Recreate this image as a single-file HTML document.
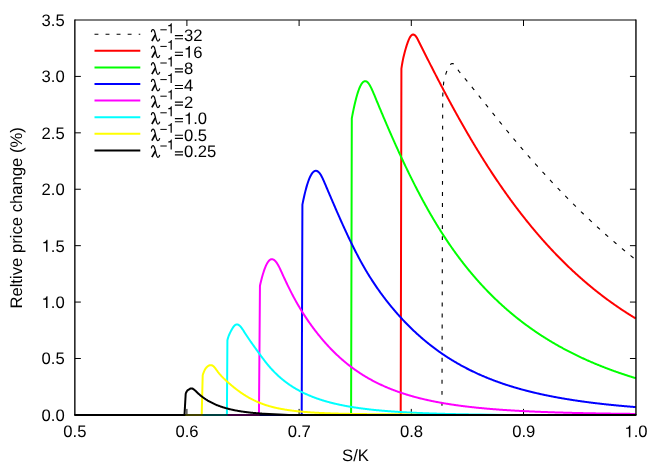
<!DOCTYPE html>
<html>
<head>
<meta charset="utf-8">
<title>Relative price change</title>
<style>
html,body{margin:0;padding:0;background:#fff;}
body{width:664px;height:465px;overflow:hidden;position:relative;font-family:"Liberation Sans",sans-serif;}
svg{will-change:transform;}
svg text{text-rendering:geometricPrecision;}
</style>
</head>
<body>
<svg width="664" height="465" viewBox="0 0 664 465" style="display:block;position:absolute;left:0;top:0" font-family="Liberation Sans, sans-serif" font-size="16.67" fill="#000">
<rect width="664" height="465" fill="#fff"/>
<path d="M186.90 414.9v-6 M186.90 20.0v6 M299.10 414.9v-6 M299.10 20.0v6 M411.30 414.9v-6 M411.30 20.0v6 M523.50 414.9v-6 M523.50 20.0v6 M74.85 358.49h6 M635.95 358.49h-6 M74.85 302.07h6 M635.95 302.07h-6 M74.85 245.66h6 M635.95 245.66h-6 M74.85 189.24h6 M635.95 189.24h-6 M74.85 132.83h6 M635.95 132.83h-6 M74.85 76.41h6 M635.95 76.41h-6" stroke="#000" stroke-width="1" fill="none"/>
<text x="63.26" y="437.25" font-size="16.67">0.5</text>
<text x="175.48" y="437.25" font-size="16.67">0.6</text>
<text x="287.70" y="437.25" font-size="16.67">0.7</text>
<text x="399.92" y="437.25" font-size="16.67">0.8</text>
<text x="512.14" y="437.25" font-size="16.67">0.9</text>
<path d="M271 0V-505H102V-568C205 -573 283 -625 301 -709H359V0Z" transform="translate(624.36 437.25) scale(0.01667)" fill="#000"/><text x="633.63" y="437.25" font-size="16.67">.0</text>
<text x="41.53" y="420.90" font-size="16.67">0.0</text>
<text x="41.53" y="364.49" font-size="16.67">0.5</text>
<path d="M271 0V-505H102V-568C205 -573 283 -625 301 -709H359V0Z" transform="translate(41.53 308.07) scale(0.01667)" fill="#000"/><text x="50.80" y="308.07" font-size="16.67">.0</text>
<path d="M271 0V-505H102V-568C205 -573 283 -625 301 -709H359V0Z" transform="translate(41.53 251.66) scale(0.01667)" fill="#000"/><text x="50.80" y="251.66" font-size="16.67">.5</text>
<text x="41.53" y="195.24" font-size="16.67">2.0</text>
<text x="41.53" y="138.83" font-size="16.67">2.5</text>
<text x="41.53" y="82.41" font-size="16.67">3.0</text>
<text x="41.53" y="26.00" font-size="16.67">3.5</text>
<text x="355.5" y="461.3" text-anchor="middle">S/K</text>
<text transform="translate(22 217.9) rotate(-90)" text-anchor="middle">Reltive price change (%)</text>
<path d="M94.5 34.2H140.3" stroke="#000" stroke-width="1.02" stroke-dasharray="3.9 7.15" fill="none"/>
<g transform="translate(150.7 41.2)" fill="none" stroke="#000" stroke-linecap="round" stroke-linejoin="round"><path d="M0.75 -9.6C1.0 -11.4 2.0 -12.0 2.9 -11.5C4.1 -10.7 4.3 -8.7 4.8 -6.2C5.5 -2.7 6.0 -0.1 7.2 -0.1C8.1 -0.1 8.6 -0.9 8.9 -2.1" stroke-width="1.25"/><path d="M4.55 -6.3L1.2 -0.2" stroke-width="1.7" stroke-linecap="butt"/></g>
<path d="M160.35 29.80h6.4" stroke="#000" stroke-width="1.0" fill="none"/>
<path d="M271 0V-505H102V-568C205 -573 283 -625 301 -709H359V0Z" transform="translate(166.80 33.20) scale(0.01390)" fill="#000"/>
<path d="M174.9 35.65h8.1M174.9 38.70h8.1" stroke="#000" stroke-width="1.15" fill="none"/>
<text x="183.90" y="41.20" font-size="16.67">32</text>
<path d="M94.5 50.8H140.3" stroke="#ff0000" stroke-width="2" fill="none"/>
<g transform="translate(150.7 57.8)" fill="none" stroke="#000" stroke-linecap="round" stroke-linejoin="round"><path d="M0.75 -9.6C1.0 -11.4 2.0 -12.0 2.9 -11.5C4.1 -10.7 4.3 -8.7 4.8 -6.2C5.5 -2.7 6.0 -0.1 7.2 -0.1C8.1 -0.1 8.6 -0.9 8.9 -2.1" stroke-width="1.25"/><path d="M4.55 -6.3L1.2 -0.2" stroke-width="1.7" stroke-linecap="butt"/></g>
<path d="M160.35 46.40h6.4" stroke="#000" stroke-width="1.0" fill="none"/>
<path d="M271 0V-505H102V-568C205 -573 283 -625 301 -709H359V0Z" transform="translate(166.80 49.80) scale(0.01390)" fill="#000"/>
<path d="M174.9 52.25h8.1M174.9 55.30h8.1" stroke="#000" stroke-width="1.15" fill="none"/>
<path d="M271 0V-505H102V-568C205 -573 283 -625 301 -709H359V0Z" transform="translate(183.90 57.80) scale(0.01667)" fill="#000"/><text x="193.17" y="57.80" font-size="16.67">6</text>
<path d="M94.5 67.4H140.3" stroke="#00ff00" stroke-width="2" fill="none"/>
<g transform="translate(150.7 74.4)" fill="none" stroke="#000" stroke-linecap="round" stroke-linejoin="round"><path d="M0.75 -9.6C1.0 -11.4 2.0 -12.0 2.9 -11.5C4.1 -10.7 4.3 -8.7 4.8 -6.2C5.5 -2.7 6.0 -0.1 7.2 -0.1C8.1 -0.1 8.6 -0.9 8.9 -2.1" stroke-width="1.25"/><path d="M4.55 -6.3L1.2 -0.2" stroke-width="1.7" stroke-linecap="butt"/></g>
<path d="M160.35 63.00h6.4" stroke="#000" stroke-width="1.0" fill="none"/>
<path d="M271 0V-505H102V-568C205 -573 283 -625 301 -709H359V0Z" transform="translate(166.80 66.40) scale(0.01390)" fill="#000"/>
<path d="M174.9 68.85h8.1M174.9 71.90h8.1" stroke="#000" stroke-width="1.15" fill="none"/>
<text x="183.90" y="74.40" font-size="16.67">8</text>
<path d="M94.5 84.0H140.3" stroke="#0000ff" stroke-width="2" fill="none"/>
<g transform="translate(150.7 91.0)" fill="none" stroke="#000" stroke-linecap="round" stroke-linejoin="round"><path d="M0.75 -9.6C1.0 -11.4 2.0 -12.0 2.9 -11.5C4.1 -10.7 4.3 -8.7 4.8 -6.2C5.5 -2.7 6.0 -0.1 7.2 -0.1C8.1 -0.1 8.6 -0.9 8.9 -2.1" stroke-width="1.25"/><path d="M4.55 -6.3L1.2 -0.2" stroke-width="1.7" stroke-linecap="butt"/></g>
<path d="M160.35 79.60h6.4" stroke="#000" stroke-width="1.0" fill="none"/>
<path d="M271 0V-505H102V-568C205 -573 283 -625 301 -709H359V0Z" transform="translate(166.80 83.00) scale(0.01390)" fill="#000"/>
<path d="M174.9 85.45h8.1M174.9 88.50h8.1" stroke="#000" stroke-width="1.15" fill="none"/>
<text x="183.90" y="91.00" font-size="16.67">4</text>
<path d="M94.5 100.6H140.3" stroke="#ff00ff" stroke-width="2" fill="none"/>
<g transform="translate(150.7 107.6)" fill="none" stroke="#000" stroke-linecap="round" stroke-linejoin="round"><path d="M0.75 -9.6C1.0 -11.4 2.0 -12.0 2.9 -11.5C4.1 -10.7 4.3 -8.7 4.8 -6.2C5.5 -2.7 6.0 -0.1 7.2 -0.1C8.1 -0.1 8.6 -0.9 8.9 -2.1" stroke-width="1.25"/><path d="M4.55 -6.3L1.2 -0.2" stroke-width="1.7" stroke-linecap="butt"/></g>
<path d="M160.35 96.20h6.4" stroke="#000" stroke-width="1.0" fill="none"/>
<path d="M271 0V-505H102V-568C205 -573 283 -625 301 -709H359V0Z" transform="translate(166.80 99.60) scale(0.01390)" fill="#000"/>
<path d="M174.9 102.05h8.1M174.9 105.10h8.1" stroke="#000" stroke-width="1.15" fill="none"/>
<text x="183.90" y="107.60" font-size="16.67">2</text>
<path d="M94.5 117.2H140.3" stroke="#00ffff" stroke-width="2" fill="none"/>
<g transform="translate(150.7 124.2)" fill="none" stroke="#000" stroke-linecap="round" stroke-linejoin="round"><path d="M0.75 -9.6C1.0 -11.4 2.0 -12.0 2.9 -11.5C4.1 -10.7 4.3 -8.7 4.8 -6.2C5.5 -2.7 6.0 -0.1 7.2 -0.1C8.1 -0.1 8.6 -0.9 8.9 -2.1" stroke-width="1.25"/><path d="M4.55 -6.3L1.2 -0.2" stroke-width="1.7" stroke-linecap="butt"/></g>
<path d="M160.35 112.80h6.4" stroke="#000" stroke-width="1.0" fill="none"/>
<path d="M271 0V-505H102V-568C205 -573 283 -625 301 -709H359V0Z" transform="translate(166.80 116.20) scale(0.01390)" fill="#000"/>
<path d="M174.9 118.65h8.1M174.9 121.70h8.1" stroke="#000" stroke-width="1.15" fill="none"/>
<path d="M271 0V-505H102V-568C205 -573 283 -625 301 -709H359V0Z" transform="translate(183.90 124.20) scale(0.01667)" fill="#000"/><text x="193.17" y="124.20" font-size="16.67">.0</text>
<path d="M94.5 133.8H140.3" stroke="#ffff00" stroke-width="2" fill="none"/>
<g transform="translate(150.7 140.8)" fill="none" stroke="#000" stroke-linecap="round" stroke-linejoin="round"><path d="M0.75 -9.6C1.0 -11.4 2.0 -12.0 2.9 -11.5C4.1 -10.7 4.3 -8.7 4.8 -6.2C5.5 -2.7 6.0 -0.1 7.2 -0.1C8.1 -0.1 8.6 -0.9 8.9 -2.1" stroke-width="1.25"/><path d="M4.55 -6.3L1.2 -0.2" stroke-width="1.7" stroke-linecap="butt"/></g>
<path d="M160.35 129.40h6.4" stroke="#000" stroke-width="1.0" fill="none"/>
<path d="M271 0V-505H102V-568C205 -573 283 -625 301 -709H359V0Z" transform="translate(166.80 132.80) scale(0.01390)" fill="#000"/>
<path d="M174.9 135.25h8.1M174.9 138.30h8.1" stroke="#000" stroke-width="1.15" fill="none"/>
<text x="183.90" y="140.80" font-size="16.67">0.5</text>
<path d="M94.5 150.4H140.3" stroke="#000000" stroke-width="2" fill="none"/>
<g transform="translate(150.7 157.4)" fill="none" stroke="#000" stroke-linecap="round" stroke-linejoin="round"><path d="M0.75 -9.6C1.0 -11.4 2.0 -12.0 2.9 -11.5C4.1 -10.7 4.3 -8.7 4.8 -6.2C5.5 -2.7 6.0 -0.1 7.2 -0.1C8.1 -0.1 8.6 -0.9 8.9 -2.1" stroke-width="1.25"/><path d="M4.55 -6.3L1.2 -0.2" stroke-width="1.7" stroke-linecap="butt"/></g>
<path d="M160.35 146.00h6.4" stroke="#000" stroke-width="1.0" fill="none"/>
<path d="M271 0V-505H102V-568C205 -573 283 -625 301 -709H359V0Z" transform="translate(166.80 149.40) scale(0.01390)" fill="#000"/>
<path d="M174.9 151.85h8.1M174.9 154.90h8.1" stroke="#000" stroke-width="1.15" fill="none"/>
<text x="183.90" y="157.40" font-size="16.67">0.25</text>
<path d="M441.95 415.00 L442.70 97.00 L443.20 87.04 L443.70 82.35 L444.20 79.72 L444.70 77.62 L445.20 75.88 L445.70 74.35 L446.20 72.92 L446.70 71.55 L447.20 70.26 L447.70 69.05 L448.20 67.93 L448.70 66.93 L449.20 66.05 L449.70 65.30 L450.20 64.69 L450.70 64.22 L451.20 63.88 L451.70 63.67 L452.20 63.59 L452.70 63.63 L453.20 63.79 L453.70 64.07 L454.20 64.47 L454.70 64.97 L455.20 65.57 L455.70 66.27 L456.20 67.03 L456.70 67.83 L457.20 68.64 L457.70 69.44 L458.20 70.20 L458.70 70.90 L459.20 71.56 L459.70 72.19 L460.20 72.80 L460.70 73.40 L461.20 74.00 L461.70 74.61 L462.20 75.21 L462.70 75.81 L463.20 76.42 L463.70 77.02 L464.20 77.63 L464.70 78.24 L465.20 78.85 L465.70 79.46 L466.20 80.07 L466.70 80.68 L467.20 81.29 L467.70 81.91 L468.20 82.52 L468.70 83.14 L469.20 83.75 L469.70 84.37 L470.20 84.99 L470.70 85.60 L471.20 86.22 L471.70 86.84 L472.20 87.46 L472.70 88.08 L473.20 88.70 L473.70 89.32 L474.20 89.94 L474.70 90.57 L475.20 91.19 L475.70 91.81 L476.20 92.44 L476.70 93.06 L477.20 93.68 L477.70 94.31 L478.20 94.93 L478.70 95.56 L479.20 96.18 L479.70 96.81 L480.20 97.43 L480.70 98.06 L481.20 98.69 L481.70 99.31 L482.20 99.94 L482.70 100.57 L483.20 101.19 L483.70 101.82 L484.20 102.45 L484.70 103.07 L485.20 103.70 L485.70 104.33 L486.20 104.95 L486.70 105.58 L487.20 106.21 L487.70 106.83 L488.20 107.46 L488.70 108.09 L489.20 108.71 L489.70 109.34 L490.20 109.97 L490.70 110.59 L491.20 111.22 L491.70 111.84 L492.20 112.47 L492.70 113.09 L493.20 113.71 L493.70 114.34 L494.20 114.96 L494.70 115.59 L495.20 116.21 L495.70 116.83 L496.20 117.45 L496.70 118.07 L497.20 118.69 L497.70 119.32 L498.20 119.94 L498.70 120.55 L499.20 121.17 L499.70 121.79 L500.20 122.41 L500.70 123.03 L501.20 123.64 L501.70 124.26 L502.20 124.88 L502.70 125.49 L503.20 126.11 L503.70 126.72 L504.20 127.33 L504.70 127.94 L505.20 128.56 L505.70 129.17 L506.20 129.78 L506.70 130.39 L507.20 130.99 L507.70 131.60 L508.20 132.21 L508.70 132.81 L509.20 133.42 L509.70 134.02 L510.20 134.63 L510.70 135.23 L511.20 135.83 L511.70 136.43 L512.20 137.03 L512.70 137.63 L513.20 138.23 L513.70 138.83 L514.20 139.43 L514.70 140.02 L515.20 140.62 L515.70 141.21 L516.20 141.80 L516.70 142.40 L517.20 142.99 L517.70 143.58 L518.20 144.17 L518.70 144.76 L519.20 145.35 L519.70 145.94 L520.20 146.52 L520.70 147.11 L521.20 147.69 L521.70 148.28 L522.20 148.86 L522.70 149.44 L523.20 150.03 L523.70 150.61 L524.20 151.19 L524.70 151.77 L525.20 152.35 L525.70 152.92 L526.20 153.50 L526.70 154.08 L527.20 154.65 L527.70 155.22 L528.20 155.80 L528.70 156.37 L529.20 156.94 L529.70 157.51 L530.20 158.08 L530.70 158.65 L531.20 159.22 L531.70 159.79 L532.20 160.36 L532.70 160.92 L533.20 161.49 L533.70 162.05 L534.20 162.61 L534.70 163.18 L535.20 163.74 L535.70 164.30 L536.20 164.86 L536.70 165.42 L537.20 165.98 L537.70 166.53 L538.20 167.09 L538.70 167.65 L539.20 168.20 L539.70 168.76 L540.20 169.31 L540.70 169.86 L541.20 170.41 L541.70 170.96 L542.20 171.51 L542.70 172.06 L543.20 172.61 L543.70 173.16 L544.20 173.70 L544.70 174.25 L545.20 174.79 L545.70 175.34 L546.20 175.88 L546.70 176.42 L547.20 176.97 L547.70 177.51 L548.20 178.05 L548.70 178.58 L549.20 179.12 L549.70 179.66 L550.20 180.20 L550.70 180.73 L551.20 181.27 L551.70 181.80 L552.20 182.33 L552.70 182.86 L553.20 183.40 L553.70 183.93 L554.20 184.46 L554.70 184.98 L555.20 185.51 L555.70 186.04 L556.20 186.57 L556.70 187.09 L557.20 187.62 L557.70 188.14 L558.20 188.66 L558.70 189.18 L559.20 189.71 L559.70 190.23 L560.20 190.75 L560.70 191.26 L561.20 191.78 L561.70 192.30 L562.20 192.81 L562.70 193.33 L563.20 193.84 L563.70 194.36 L564.20 194.87 L564.70 195.38 L565.20 195.89 L565.70 196.40 L566.20 196.91 L566.70 197.42 L567.20 197.93 L567.70 198.44 L568.20 198.94 L568.70 199.45 L569.20 199.95 L569.70 200.46 L570.20 200.96 L570.70 201.46 L571.20 201.96 L571.70 202.46 L572.20 202.96 L572.70 203.46 L573.20 203.96 L573.70 204.45 L574.20 204.95 L574.70 205.44 L575.20 205.94 L575.70 206.43 L576.20 206.92 L576.70 207.42 L577.20 207.91 L577.70 208.40 L578.20 208.89 L578.70 209.37 L579.20 209.86 L579.70 210.35 L580.20 210.83 L580.70 211.32 L581.20 211.80 L581.70 212.29 L582.20 212.77 L582.70 213.25 L583.20 213.73 L583.70 214.21 L584.20 214.69 L584.70 215.17 L585.20 215.65 L585.70 216.12 L586.20 216.60 L586.70 217.07 L587.20 217.55 L587.70 218.02 L588.20 218.50 L588.70 218.97 L589.20 219.44 L589.70 219.91 L590.20 220.38 L590.70 220.85 L591.20 221.31 L591.70 221.78 L592.20 222.25 L592.70 222.71 L593.20 223.18 L593.70 223.64 L594.20 224.10 L594.70 224.56 L595.20 225.02 L595.70 225.48 L596.20 225.94 L596.70 226.40 L597.20 226.86 L597.70 227.32 L598.20 227.77 L598.70 228.23 L599.20 228.68 L599.70 229.14 L600.20 229.59 L600.70 230.04 L601.20 230.49 L601.70 230.94 L602.20 231.39 L602.70 231.84 L603.20 232.29 L603.70 232.74 L604.20 233.18 L604.70 233.63 L605.20 234.07 L605.70 234.52 L606.20 234.96 L606.70 235.40 L607.20 235.84 L607.70 236.28 L608.20 236.72 L608.70 237.16 L609.20 237.60 L609.70 238.04 L610.20 238.47 L610.70 238.91 L611.20 239.34 L611.70 239.78 L612.20 240.21 L612.70 240.64 L613.20 241.08 L613.70 241.51 L614.20 241.94 L614.70 242.37 L615.20 242.79 L615.70 243.22 L616.20 243.65 L616.70 244.07 L617.20 244.50 L617.70 244.92 L618.20 245.35 L618.70 245.77 L619.20 246.19 L619.70 246.61 L620.20 247.03 L620.70 247.45 L621.20 247.87 L621.70 248.29 L622.20 248.71 L622.70 249.13 L623.20 249.54 L623.70 249.96 L624.20 250.37 L624.70 250.78 L625.20 251.20 L625.70 251.61 L626.20 252.02 L626.70 252.43 L627.20 252.84 L627.70 253.25 L628.20 253.65 L628.70 254.06 L629.20 254.47 L629.70 254.87 L630.20 255.28 L630.70 255.68 L631.20 256.08 L631.70 256.49 L632.20 256.89 L632.70 257.29 L633.20 257.69 L633.70 258.09 L634.20 258.49 L634.70 258.88 L635.20 259.28 L635.70 259.68 L635.75 259.72" stroke="#000" stroke-width="1.12" stroke-dasharray="3.9 7.15" stroke-dashoffset="1.9" fill="none" stroke-linejoin="round"/>
<path d="M74.85 414.90 L400.70 414.90 L401.40 68.60 L401.90 65.40 L402.40 62.52 L402.90 59.92 L403.40 57.55 L403.90 55.40 L404.40 53.41 L404.90 51.55 L405.40 49.78 L405.90 48.07 L406.40 46.41 L406.90 44.82 L407.40 43.32 L407.90 41.90 L408.40 40.59 L408.90 39.40 L409.40 38.33 L409.90 37.38 L410.40 36.57 L410.90 35.89 L411.40 35.35 L411.90 34.94 L412.40 34.68 L412.90 34.54 L413.40 34.53 L413.90 34.66 L414.40 34.90 L414.90 35.26 L415.40 35.75 L415.90 36.34 L416.40 37.05 L416.90 37.85 L417.40 38.74 L417.90 39.69 L418.40 40.68 L418.90 41.69 L419.40 42.70 L419.90 43.72 L420.40 44.73 L420.90 45.73 L421.40 46.74 L421.90 47.74 L422.40 48.74 L422.90 49.74 L423.40 50.74 L423.90 51.74 L424.40 52.73 L424.90 53.73 L425.40 54.72 L425.90 55.72 L426.40 56.71 L426.90 57.70 L427.40 58.69 L427.90 59.68 L428.40 60.67 L428.90 61.65 L429.40 62.64 L429.90 63.63 L430.40 64.61 L430.90 65.59 L431.40 66.57 L431.90 67.55 L432.40 68.53 L432.90 69.51 L433.40 70.49 L433.90 71.46 L434.40 72.44 L434.90 73.41 L435.40 74.38 L435.90 75.35 L436.40 76.32 L436.90 77.28 L437.40 78.25 L437.90 79.22 L438.40 80.18 L438.90 81.14 L439.40 82.10 L439.90 83.06 L440.40 84.02 L440.90 84.97 L441.40 85.93 L441.90 86.88 L442.40 87.83 L442.90 88.78 L443.40 89.73 L443.90 90.67 L444.40 91.62 L444.90 92.56 L445.40 93.50 L445.90 94.44 L446.40 95.38 L446.90 96.32 L447.40 97.25 L447.90 98.19 L448.40 99.12 L448.90 100.05 L449.40 100.97 L449.90 101.90 L450.40 102.83 L450.90 103.75 L451.40 104.67 L451.90 105.59 L452.40 106.51 L452.90 107.42 L453.40 108.34 L453.90 109.25 L454.40 110.16 L454.90 111.07 L455.40 111.97 L455.90 112.88 L456.40 113.78 L456.90 114.68 L457.40 115.58 L457.90 116.48 L458.40 117.38 L458.90 118.27 L459.40 119.16 L459.90 120.05 L460.40 120.94 L460.90 121.82 L461.40 122.71 L461.90 123.59 L462.40 124.47 L462.90 125.35 L463.40 126.23 L463.90 127.10 L464.40 127.97 L464.90 128.84 L465.40 129.71 L465.90 130.58 L466.40 131.44 L466.90 132.31 L467.40 133.17 L467.90 134.03 L468.40 134.88 L468.90 135.74 L469.40 136.59 L469.90 137.44 L470.40 138.29 L470.90 139.14 L471.40 139.98 L471.90 140.82 L472.40 141.66 L472.90 142.50 L473.40 143.34 L473.90 144.17 L474.40 145.01 L474.90 145.84 L475.40 146.66 L475.90 147.49 L476.40 148.31 L476.90 149.14 L477.40 149.96 L477.90 150.77 L478.40 151.59 L478.90 152.40 L479.40 153.22 L479.90 154.03 L480.40 154.83 L480.90 155.64 L481.40 156.44 L481.90 157.24 L482.40 158.04 L482.90 158.84 L483.40 159.64 L483.90 160.43 L484.40 161.22 L484.90 162.01 L485.40 162.80 L485.90 163.58 L486.40 164.36 L486.90 165.14 L487.40 165.92 L487.90 166.70 L488.40 167.47 L488.90 168.25 L489.40 169.02 L489.90 169.79 L490.40 170.55 L490.90 171.32 L491.40 172.08 L491.90 172.84 L492.40 173.60 L492.90 174.35 L493.40 175.11 L493.90 175.86 L494.40 176.61 L494.90 177.36 L495.40 178.11 L495.90 178.85 L496.40 179.59 L496.90 180.33 L497.40 181.07 L497.90 181.81 L498.40 182.54 L498.90 183.27 L499.40 184.00 L499.90 184.73 L500.40 185.46 L500.90 186.18 L501.40 186.90 L501.90 187.62 L502.40 188.34 L502.90 189.06 L503.40 189.77 L503.90 190.48 L504.40 191.19 L504.90 191.90 L505.40 192.61 L505.90 193.31 L506.40 194.01 L506.90 194.71 L507.40 195.41 L507.90 196.11 L508.40 196.80 L508.90 197.49 L509.40 198.18 L509.90 198.87 L510.40 199.56 L510.90 200.24 L511.40 200.93 L511.90 201.61 L512.40 202.28 L512.90 202.96 L513.40 203.64 L513.90 204.31 L514.40 204.98 L514.90 205.65 L515.40 206.31 L515.90 206.98 L516.40 207.64 L516.90 208.30 L517.40 208.96 L517.90 209.62 L518.40 210.28 L518.90 210.93 L519.40 211.58 L519.90 212.23 L520.40 212.88 L520.90 213.52 L521.40 214.17 L521.90 214.81 L522.40 215.45 L522.90 216.09 L523.40 216.72 L523.90 217.36 L524.40 217.99 L524.90 218.62 L525.40 219.25 L525.90 219.88 L526.40 220.50 L526.90 221.13 L527.40 221.75 L527.90 222.37 L528.40 222.99 L528.90 223.60 L529.40 224.22 L529.90 224.83 L530.40 225.44 L530.90 226.05 L531.40 226.65 L531.90 227.26 L532.40 227.86 L532.90 228.46 L533.40 229.06 L533.90 229.66 L534.40 230.25 L534.90 230.85 L535.40 231.44 L535.90 232.03 L536.40 232.62 L536.90 233.21 L537.40 233.79 L537.90 234.37 L538.40 234.95 L538.90 235.53 L539.40 236.11 L539.90 236.69 L540.40 237.26 L540.90 237.83 L541.40 238.40 L541.90 238.97 L542.40 239.54 L542.90 240.11 L543.40 240.67 L543.90 241.23 L544.40 241.79 L544.90 242.35 L545.40 242.91 L545.90 243.46 L546.40 244.01 L546.90 244.56 L547.40 245.11 L547.90 245.66 L548.40 246.21 L548.90 246.75 L549.40 247.29 L549.90 247.84 L550.40 248.38 L550.90 248.91 L551.40 249.45 L551.90 249.98 L552.40 250.52 L552.90 251.05 L553.40 251.57 L553.90 252.10 L554.40 252.63 L554.90 253.15 L555.40 253.67 L555.90 254.20 L556.40 254.71 L556.90 255.23 L557.40 255.75 L557.90 256.26 L558.40 256.77 L558.90 257.28 L559.40 257.79 L559.90 258.30 L560.40 258.81 L560.90 259.31 L561.40 259.81 L561.90 260.31 L562.40 260.81 L562.90 261.31 L563.40 261.81 L563.90 262.30 L564.40 262.80 L564.90 263.29 L565.40 263.78 L565.90 264.26 L566.40 264.75 L566.90 265.24 L567.40 265.72 L567.90 266.20 L568.40 266.68 L568.90 267.16 L569.40 267.64 L569.90 268.11 L570.40 268.59 L570.90 269.06 L571.40 269.53 L571.90 270.00 L572.40 270.47 L572.90 270.93 L573.40 271.40 L573.90 271.86 L574.40 272.32 L574.90 272.78 L575.40 273.24 L575.90 273.70 L576.40 274.15 L576.90 274.61 L577.40 275.06 L577.90 275.51 L578.40 275.96 L578.90 276.41 L579.40 276.85 L579.90 277.30 L580.40 277.74 L580.90 278.18 L581.40 278.62 L581.90 279.06 L582.40 279.50 L582.90 279.94 L583.40 280.37 L583.90 280.80 L584.40 281.23 L584.90 281.66 L585.40 282.09 L585.90 282.52 L586.40 282.95 L586.90 283.37 L587.40 283.79 L587.90 284.22 L588.40 284.64 L588.90 285.05 L589.40 285.47 L589.90 285.89 L590.40 286.30 L590.90 286.71 L591.40 287.13 L591.90 287.54 L592.40 287.95 L592.90 288.35 L593.40 288.76 L593.90 289.16 L594.40 289.57 L594.90 289.97 L595.40 290.37 L595.90 290.77 L596.40 291.17 L596.90 291.56 L597.40 291.96 L597.90 292.35 L598.40 292.74 L598.90 293.13 L599.40 293.52 L599.90 293.91 L600.40 294.30 L600.90 294.68 L601.40 295.07 L601.90 295.45 L602.40 295.83 L602.90 296.21 L603.40 296.59 L603.90 296.97 L604.40 297.35 L604.90 297.72 L605.40 298.10 L605.90 298.47 L606.40 298.84 L606.90 299.21 L607.40 299.58 L607.90 299.94 L608.40 300.31 L608.90 300.68 L609.40 301.04 L609.90 301.40 L610.40 301.76 L610.90 302.12 L611.40 302.48 L611.90 302.84 L612.40 303.19 L612.90 303.55 L613.40 303.90 L613.90 304.25 L614.40 304.60 L614.90 304.95 L615.40 305.30 L615.90 305.65 L616.40 305.99 L616.90 306.34 L617.40 306.68 L617.90 307.02 L618.40 307.37 L618.90 307.71 L619.40 308.04 L619.90 308.38 L620.40 308.72 L620.90 309.05 L621.40 309.39 L621.90 309.72 L622.40 310.05 L622.90 310.38 L623.40 310.71 L623.90 311.04 L624.40 311.37 L624.90 311.69 L625.40 312.02 L625.90 312.34 L626.40 312.66 L626.90 312.98 L627.40 313.30 L627.90 313.62 L628.40 313.94 L628.90 314.26 L629.40 314.57 L629.90 314.88 L630.40 315.20 L630.90 315.51 L631.40 315.82 L631.90 316.13 L632.40 316.44 L632.90 316.75 L633.40 317.05 L633.90 317.36 L634.40 317.66 L634.90 317.97 L635.40 318.27 L635.75 318.48" stroke="#ff0000" stroke-width="2" fill="none" stroke-linejoin="round"/>
<path d="M74.85 414.90 L351.10 414.90 L351.80 118.20 L352.30 115.58 L352.80 113.03 L353.30 110.58 L353.80 108.21 L354.30 105.93 L354.80 103.74 L355.30 101.65 L355.80 99.66 L356.30 97.76 L356.80 95.95 L357.30 94.25 L357.80 92.65 L358.30 91.15 L358.80 89.75 L359.30 88.45 L359.80 87.26 L360.30 86.17 L360.80 85.19 L361.30 84.32 L361.80 83.55 L362.30 82.88 L362.80 82.33 L363.30 81.87 L363.80 81.53 L364.30 81.29 L364.80 81.15 L365.30 81.13 L365.80 81.20 L366.30 81.38 L366.80 81.66 L367.30 82.04 L367.80 82.51 L368.30 83.07 L368.80 83.72 L369.30 84.46 L369.80 85.28 L370.30 86.17 L370.80 87.13 L371.30 88.14 L371.80 89.20 L372.30 90.30 L372.80 91.43 L373.30 92.59 L373.80 93.77 L374.30 94.97 L374.80 96.18 L375.30 97.39 L375.80 98.61 L376.30 99.82 L376.80 101.04 L377.30 102.25 L377.80 103.45 L378.30 104.66 L378.80 105.86 L379.30 107.07 L379.80 108.27 L380.30 109.46 L380.80 110.66 L381.30 111.85 L381.80 113.04 L382.30 114.23 L382.80 115.41 L383.30 116.60 L383.80 117.78 L384.30 118.95 L384.80 120.13 L385.30 121.30 L385.80 122.47 L386.30 123.64 L386.80 124.80 L387.30 125.97 L387.80 127.13 L388.30 128.28 L388.80 129.44 L389.30 130.59 L389.80 131.74 L390.30 132.88 L390.80 134.02 L391.30 135.16 L391.80 136.30 L392.30 137.43 L392.80 138.56 L393.30 139.69 L393.80 140.82 L394.30 141.94 L394.80 143.06 L395.30 144.17 L395.80 145.29 L396.30 146.40 L396.80 147.50 L397.30 148.60 L397.80 149.70 L398.30 150.80 L398.80 151.90 L399.30 152.99 L399.80 154.07 L400.30 155.16 L400.80 156.24 L401.30 157.31 L401.80 158.39 L402.30 159.46 L402.80 160.53 L403.30 161.59 L403.80 162.65 L404.30 163.71 L404.80 164.76 L405.30 165.81 L405.80 166.86 L406.30 167.90 L406.80 168.94 L407.30 169.98 L407.80 171.01 L408.30 172.04 L408.80 173.07 L409.30 174.09 L409.80 175.11 L410.30 176.13 L410.80 177.14 L411.30 178.15 L411.80 179.15 L412.30 180.15 L412.80 181.15 L413.30 182.15 L413.80 183.14 L414.30 184.12 L414.80 185.11 L415.30 186.09 L415.80 187.06 L416.30 188.03 L416.80 189.00 L417.30 189.97 L417.80 190.93 L418.30 191.89 L418.80 192.84 L419.30 193.79 L419.80 194.74 L420.30 195.68 L420.80 196.62 L421.30 197.56 L421.80 198.49 L422.30 199.42 L422.80 200.35 L423.30 201.27 L423.80 202.19 L424.30 203.10 L424.80 204.01 L425.30 204.92 L425.80 205.82 L426.30 206.72 L426.80 207.61 L427.30 208.51 L427.80 209.39 L428.30 210.28 L428.80 211.16 L429.30 212.03 L429.80 212.91 L430.30 213.78 L430.80 214.64 L431.30 215.51 L431.80 216.36 L432.30 217.22 L432.80 218.07 L433.30 218.92 L433.80 219.76 L434.30 220.60 L434.80 221.44 L435.30 222.27 L435.80 223.10 L436.30 223.92 L436.80 224.74 L437.30 225.56 L437.80 226.37 L438.30 227.18 L438.80 227.99 L439.30 228.79 L439.80 229.59 L440.30 230.39 L440.80 231.18 L441.30 231.97 L441.80 232.75 L442.30 233.53 L442.80 234.31 L443.30 235.09 L443.80 235.86 L444.30 236.62 L444.80 237.38 L445.30 238.14 L445.80 238.90 L446.30 239.65 L446.80 240.40 L447.30 241.15 L447.80 241.89 L448.30 242.63 L448.80 243.36 L449.30 244.09 L449.80 244.82 L450.30 245.55 L450.80 246.27 L451.30 246.98 L451.80 247.70 L452.30 248.41 L452.80 249.12 L453.30 249.82 L453.80 250.52 L454.30 251.22 L454.80 251.92 L455.30 252.61 L455.80 253.30 L456.30 253.98 L456.80 254.67 L457.30 255.35 L457.80 256.02 L458.30 256.70 L458.80 257.37 L459.30 258.03 L459.80 258.70 L460.30 259.36 L460.80 260.01 L461.30 260.67 L461.80 261.32 L462.30 261.97 L462.80 262.62 L463.30 263.26 L463.80 263.90 L464.30 264.54 L464.80 265.17 L465.30 265.80 L465.80 266.43 L466.30 267.06 L466.80 267.68 L467.30 268.30 L467.80 268.91 L468.30 269.53 L468.80 270.14 L469.30 270.75 L469.80 271.36 L470.30 271.96 L470.80 272.56 L471.30 273.16 L471.80 273.75 L472.30 274.34 L472.80 274.93 L473.30 275.52 L473.80 276.11 L474.30 276.69 L474.80 277.27 L475.30 277.84 L475.80 278.42 L476.30 278.99 L476.80 279.56 L477.30 280.12 L477.80 280.69 L478.30 281.25 L478.80 281.81 L479.30 282.36 L479.80 282.92 L480.30 283.47 L480.80 284.02 L481.30 284.56 L481.80 285.11 L482.30 285.65 L482.80 286.19 L483.30 286.73 L483.80 287.26 L484.30 287.79 L484.80 288.32 L485.30 288.85 L485.80 289.37 L486.30 289.90 L486.80 290.42 L487.30 290.93 L487.80 291.45 L488.30 291.96 L488.80 292.47 L489.30 292.98 L489.80 293.49 L490.30 293.99 L490.80 294.50 L491.30 295.00 L491.80 295.49 L492.30 295.99 L492.80 296.48 L493.30 296.97 L493.80 297.46 L494.30 297.95 L494.80 298.43 L495.30 298.92 L495.80 299.40 L496.30 299.88 L496.80 300.35 L497.30 300.83 L497.80 301.30 L498.30 301.77 L498.80 302.24 L499.30 302.70 L499.80 303.17 L500.30 303.63 L500.80 304.09 L501.30 304.55 L501.80 305.00 L502.30 305.46 L502.80 305.91 L503.30 306.36 L503.80 306.81 L504.30 307.25 L504.80 307.70 L505.30 308.14 L505.80 308.58 L506.30 309.02 L506.80 309.45 L507.30 309.89 L507.80 310.32 L508.30 310.75 L508.80 311.18 L509.30 311.61 L509.80 312.03 L510.30 312.46 L510.80 312.88 L511.30 313.30 L511.80 313.71 L512.30 314.13 L512.80 314.55 L513.30 314.96 L513.80 315.37 L514.30 315.78 L514.80 316.19 L515.30 316.59 L515.80 316.99 L516.30 317.40 L516.80 317.80 L517.30 318.20 L517.80 318.59 L518.30 318.99 L518.80 319.38 L519.30 319.77 L519.80 320.16 L520.30 320.55 L520.80 320.94 L521.30 321.32 L521.80 321.71 L522.30 322.09 L522.80 322.47 L523.30 322.85 L523.80 323.23 L524.30 323.60 L524.80 323.97 L525.30 324.35 L525.80 324.72 L526.30 325.09 L526.80 325.45 L527.30 325.82 L527.80 326.18 L528.30 326.55 L528.80 326.91 L529.30 327.27 L529.80 327.63 L530.30 327.98 L530.80 328.34 L531.30 328.69 L531.80 329.05 L532.30 329.40 L532.80 329.75 L533.30 330.09 L533.80 330.44 L534.30 330.79 L534.80 331.13 L535.30 331.47 L535.80 331.81 L536.30 332.15 L536.80 332.49 L537.30 332.82 L537.80 333.16 L538.30 333.49 L538.80 333.83 L539.30 334.16 L539.80 334.49 L540.30 334.81 L540.80 335.14 L541.30 335.47 L541.80 335.79 L542.30 336.11 L542.80 336.43 L543.30 336.75 L543.80 337.07 L544.30 337.39 L544.80 337.70 L545.30 338.02 L545.80 338.33 L546.30 338.64 L546.80 338.95 L547.30 339.26 L547.80 339.57 L548.30 339.88 L548.80 340.18 L549.30 340.49 L549.80 340.79 L550.30 341.09 L550.80 341.39 L551.30 341.69 L551.80 341.99 L552.30 342.29 L552.80 342.58 L553.30 342.88 L553.80 343.17 L554.30 343.46 L554.80 343.75 L555.30 344.04 L555.80 344.33 L556.30 344.62 L556.80 344.90 L557.30 345.19 L557.80 345.47 L558.30 345.76 L558.80 346.04 L559.30 346.32 L559.80 346.60 L560.30 346.87 L560.80 347.15 L561.30 347.43 L561.80 347.70 L562.30 347.97 L562.80 348.25 L563.30 348.52 L563.80 348.79 L564.30 349.06 L564.80 349.32 L565.30 349.59 L565.80 349.85 L566.30 350.12 L566.80 350.38 L567.30 350.65 L567.80 350.91 L568.30 351.17 L568.80 351.43 L569.30 351.68 L569.80 351.94 L570.30 352.20 L570.80 352.45 L571.30 352.71 L571.80 352.96 L572.30 353.21 L572.80 353.46 L573.30 353.71 L573.80 353.96 L574.30 354.21 L574.80 354.45 L575.30 354.70 L575.80 354.94 L576.30 355.19 L576.80 355.43 L577.30 355.67 L577.80 355.91 L578.30 356.15 L578.80 356.39 L579.30 356.63 L579.80 356.87 L580.30 357.10 L580.80 357.34 L581.30 357.57 L581.80 357.80 L582.30 358.04 L582.80 358.27 L583.30 358.50 L583.80 358.73 L584.30 358.96 L584.80 359.18 L585.30 359.41 L585.80 359.64 L586.30 359.86 L586.80 360.08 L587.30 360.31 L587.80 360.53 L588.30 360.75 L588.80 360.97 L589.30 361.19 L589.80 361.41 L590.30 361.63 L590.80 361.84 L591.30 362.06 L591.80 362.27 L592.30 362.49 L592.80 362.70 L593.30 362.91 L593.80 363.13 L594.30 363.34 L594.80 363.55 L595.30 363.76 L595.80 363.96 L596.30 364.17 L596.80 364.38 L597.30 364.58 L597.80 364.79 L598.30 364.99 L598.80 365.20 L599.30 365.40 L599.80 365.60 L600.30 365.80 L600.80 366.00 L601.30 366.20 L601.80 366.40 L602.30 366.60 L602.80 366.79 L603.30 366.99 L603.80 367.19 L604.30 367.38 L604.80 367.57 L605.30 367.77 L605.80 367.96 L606.30 368.15 L606.80 368.34 L607.30 368.53 L607.80 368.72 L608.30 368.91 L608.80 369.10 L609.30 369.28 L609.80 369.47 L610.30 369.66 L610.80 369.84 L611.30 370.03 L611.80 370.21 L612.30 370.39 L612.80 370.57 L613.30 370.75 L613.80 370.94 L614.30 371.11 L614.80 371.29 L615.30 371.47 L615.80 371.65 L616.30 371.83 L616.80 372.00 L617.30 372.18 L617.80 372.35 L618.30 372.53 L618.80 372.70 L619.30 372.87 L619.80 373.05 L620.30 373.22 L620.80 373.39 L621.30 373.56 L621.80 373.73 L622.30 373.90 L622.80 374.06 L623.30 374.23 L623.80 374.40 L624.30 374.56 L624.80 374.73 L625.30 374.90 L625.80 375.06 L626.30 375.22 L626.80 375.39 L627.30 375.55 L627.80 375.71 L628.30 375.87 L628.80 376.03 L629.30 376.19 L629.80 376.35 L630.30 376.51 L630.80 376.67 L631.30 376.82 L631.80 376.98 L632.30 377.14 L632.80 377.29 L633.30 377.45 L633.80 377.60 L634.30 377.75 L634.80 377.91 L635.30 378.06 L635.75 378.20" stroke="#00ff00" stroke-width="2" fill="none" stroke-linejoin="round"/>
<path d="M74.85 414.90 L301.70 414.90 L302.40 204.60 L302.90 202.10 L303.40 199.73 L303.90 197.44 L304.40 195.24 L304.90 193.14 L305.40 191.12 L305.90 189.20 L306.40 187.37 L306.90 185.64 L307.40 184.00 L307.90 182.46 L308.40 181.01 L308.90 179.67 L309.40 178.42 L309.90 177.26 L310.40 176.21 L310.90 175.25 L311.40 174.39 L311.90 173.62 L312.40 172.95 L312.90 172.38 L313.40 171.89 L313.90 171.50 L314.40 171.20 L314.90 170.99 L315.40 170.86 L315.90 170.83 L316.40 170.87 L316.90 171.00 L317.40 171.22 L317.90 171.52 L318.40 171.90 L318.90 172.37 L319.40 172.92 L319.90 173.56 L320.40 174.29 L320.90 175.09 L321.40 175.97 L321.90 176.92 L322.40 177.92 L322.90 178.97 L323.40 180.06 L323.90 181.19 L324.40 182.34 L324.90 183.52 L325.40 184.70 L325.90 185.88 L326.40 187.07 L326.90 188.25 L327.40 189.43 L327.90 190.60 L328.40 191.78 L328.90 192.95 L329.40 194.12 L329.90 195.29 L330.40 196.46 L330.90 197.62 L331.40 198.79 L331.90 199.96 L332.40 201.12 L332.90 202.29 L333.40 203.45 L333.90 204.61 L334.40 205.77 L334.90 206.92 L335.40 208.08 L335.90 209.23 L336.40 210.38 L336.90 211.53 L337.40 212.67 L337.90 213.81 L338.40 214.95 L338.90 216.09 L339.40 217.22 L339.90 218.35 L340.40 219.48 L340.90 220.60 L341.40 221.72 L341.90 222.84 L342.40 223.95 L342.90 225.06 L343.40 226.16 L343.90 227.26 L344.40 228.36 L344.90 229.45 L345.40 230.53 L345.90 231.62 L346.40 232.69 L346.90 233.77 L347.40 234.83 L347.90 235.90 L348.40 236.96 L348.90 238.01 L349.40 239.06 L349.90 240.10 L350.40 241.14 L350.90 242.17 L351.40 243.20 L351.90 244.22 L352.40 245.23 L352.90 246.25 L353.40 247.25 L353.90 248.25 L354.40 249.24 L354.90 250.23 L355.40 251.21 L355.90 252.19 L356.40 253.16 L356.90 254.12 L357.40 255.08 L357.90 256.03 L358.40 256.97 L358.90 257.91 L359.40 258.85 L359.90 259.77 L360.40 260.69 L360.90 261.61 L361.40 262.52 L361.90 263.42 L362.40 264.31 L362.90 265.20 L363.40 266.08 L363.90 266.96 L364.40 267.83 L364.90 268.69 L365.40 269.55 L365.90 270.40 L366.40 271.24 L366.90 272.08 L367.40 272.91 L367.90 273.73 L368.40 274.55 L368.90 275.36 L369.40 276.17 L369.90 276.97 L370.40 277.76 L370.90 278.55 L371.40 279.33 L371.90 280.11 L372.40 280.88 L372.90 281.65 L373.40 282.41 L373.90 283.17 L374.40 283.92 L374.90 284.66 L375.40 285.40 L375.90 286.14 L376.40 286.87 L376.90 287.60 L377.40 288.32 L377.90 289.03 L378.40 289.74 L378.90 290.45 L379.40 291.15 L379.90 291.85 L380.40 292.54 L380.90 293.23 L381.40 293.91 L381.90 294.59 L382.40 295.27 L382.90 295.94 L383.40 296.61 L383.90 297.27 L384.40 297.93 L384.90 298.59 L385.40 299.24 L385.90 299.88 L386.40 300.53 L386.90 301.17 L387.40 301.80 L387.90 302.44 L388.40 303.06 L388.90 303.69 L389.40 304.31 L389.90 304.93 L390.40 305.54 L390.90 306.15 L391.40 306.76 L391.90 307.37 L392.40 307.97 L392.90 308.56 L393.40 309.16 L393.90 309.75 L394.40 310.34 L394.90 310.92 L395.40 311.50 L395.90 312.08 L396.40 312.66 L396.90 313.23 L397.40 313.80 L397.90 314.36 L398.40 314.93 L398.90 315.49 L399.40 316.04 L399.90 316.59 L400.40 317.14 L400.90 317.69 L401.40 318.24 L401.90 318.78 L402.40 319.32 L402.90 319.85 L403.40 320.38 L403.90 320.91 L404.40 321.44 L404.90 321.96 L405.40 322.48 L405.90 323.00 L406.40 323.51 L406.90 324.03 L407.40 324.53 L407.90 325.04 L408.40 325.54 L408.90 326.04 L409.40 326.54 L409.90 327.04 L410.40 327.53 L410.90 328.02 L411.40 328.51 L411.90 328.99 L412.40 329.47 L412.90 329.95 L413.40 330.43 L413.90 330.90 L414.40 331.37 L414.90 331.84 L415.40 332.30 L415.90 332.76 L416.40 333.23 L416.90 333.68 L417.40 334.14 L417.90 334.59 L418.40 335.04 L418.90 335.49 L419.40 335.93 L419.90 336.37 L420.40 336.81 L420.90 337.25 L421.40 337.69 L421.90 338.12 L422.40 338.55 L422.90 338.98 L423.40 339.40 L423.90 339.83 L424.40 340.25 L424.90 340.66 L425.40 341.08 L425.90 341.49 L426.40 341.90 L426.90 342.31 L427.40 342.72 L427.90 343.12 L428.40 343.53 L428.90 343.93 L429.40 344.32 L429.90 344.72 L430.40 345.11 L430.90 345.50 L431.40 345.89 L431.90 346.28 L432.40 346.66 L432.90 347.04 L433.40 347.42 L433.90 347.80 L434.40 348.17 L434.90 348.55 L435.40 348.92 L435.90 349.29 L436.40 349.65 L436.90 350.02 L437.40 350.38 L437.90 350.74 L438.40 351.10 L438.90 351.46 L439.40 351.81 L439.90 352.17 L440.40 352.52 L440.90 352.87 L441.40 353.21 L441.90 353.56 L442.40 353.90 L442.90 354.24 L443.40 354.58 L443.90 354.92 L444.40 355.25 L444.90 355.58 L445.40 355.91 L445.90 356.24 L446.40 356.57 L446.90 356.90 L447.40 357.22 L447.90 357.54 L448.40 357.86 L448.90 358.18 L449.40 358.50 L449.90 358.81 L450.40 359.12 L450.90 359.43 L451.40 359.74 L451.90 360.05 L452.40 360.36 L452.90 360.66 L453.40 360.96 L453.90 361.26 L454.40 361.56 L454.90 361.86 L455.40 362.15 L455.90 362.45 L456.40 362.74 L456.90 363.03 L457.40 363.32 L457.90 363.60 L458.40 363.89 L458.90 364.17 L459.40 364.46 L459.90 364.74 L460.40 365.01 L460.90 365.29 L461.40 365.57 L461.90 365.84 L462.40 366.11 L462.90 366.38 L463.40 366.65 L463.90 366.92 L464.40 367.19 L464.90 367.45 L465.40 367.71 L465.90 367.98 L466.40 368.24 L466.90 368.50 L467.40 368.75 L467.90 369.01 L468.40 369.26 L468.90 369.51 L469.40 369.77 L469.90 370.02 L470.40 370.26 L470.90 370.51 L471.40 370.76 L471.90 371.00 L472.40 371.24 L472.90 371.48 L473.40 371.72 L473.90 371.96 L474.40 372.20 L474.90 372.44 L475.40 372.67 L475.90 372.90 L476.40 373.13 L476.90 373.36 L477.40 373.59 L477.90 373.82 L478.40 374.05 L478.90 374.27 L479.40 374.50 L479.90 374.72 L480.40 374.94 L480.90 375.16 L481.40 375.38 L481.90 375.60 L482.40 375.81 L482.90 376.03 L483.40 376.24 L483.90 376.45 L484.40 376.66 L484.90 376.87 L485.40 377.08 L485.90 377.29 L486.40 377.50 L486.90 377.70 L487.40 377.91 L487.90 378.11 L488.40 378.31 L488.90 378.51 L489.40 378.71 L489.90 378.91 L490.40 379.11 L490.90 379.30 L491.40 379.50 L491.90 379.69 L492.40 379.88 L492.90 380.07 L493.40 380.26 L493.90 380.45 L494.40 380.64 L494.90 380.83 L495.40 381.01 L495.90 381.20 L496.40 381.38 L496.90 381.56 L497.40 381.75 L497.90 381.93 L498.40 382.11 L498.90 382.28 L499.40 382.46 L499.90 382.64 L500.40 382.81 L500.90 382.99 L501.40 383.16 L501.90 383.33 L502.40 383.51 L502.90 383.68 L503.40 383.85 L503.90 384.01 L504.40 384.18 L504.90 384.35 L505.40 384.51 L505.90 384.68 L506.40 384.84 L506.90 385.00 L507.40 385.17 L507.90 385.33 L508.40 385.49 L508.90 385.65 L509.40 385.80 L509.90 385.96 L510.40 386.12 L510.90 386.27 L511.40 386.43 L511.90 386.58 L512.40 386.73 L512.90 386.89 L513.40 387.04 L513.90 387.19 L514.40 387.34 L514.90 387.49 L515.40 387.63 L515.90 387.78 L516.40 387.93 L516.90 388.07 L517.40 388.22 L517.90 388.36 L518.40 388.50 L518.90 388.64 L519.40 388.78 L519.90 388.92 L520.40 389.06 L520.90 389.20 L521.40 389.34 L521.90 389.48 L522.40 389.61 L522.90 389.75 L523.40 389.88 L523.90 390.02 L524.40 390.15 L524.90 390.28 L525.40 390.42 L525.90 390.55 L526.40 390.68 L526.90 390.81 L527.40 390.93 L527.90 391.06 L528.40 391.19 L528.90 391.32 L529.40 391.44 L529.90 391.57 L530.40 391.69 L530.90 391.82 L531.40 391.94 L531.90 392.06 L532.40 392.18 L532.90 392.30 L533.40 392.42 L533.90 392.54 L534.40 392.66 L534.90 392.78 L535.40 392.90 L535.90 393.02 L536.40 393.13 L536.90 393.25 L537.40 393.36 L537.90 393.48 L538.40 393.59 L538.90 393.70 L539.40 393.82 L539.90 393.93 L540.40 394.04 L540.90 394.15 L541.40 394.26 L541.90 394.37 L542.40 394.48 L542.90 394.58 L543.40 394.69 L543.90 394.80 L544.40 394.90 L544.90 395.01 L545.40 395.12 L545.90 395.22 L546.40 395.32 L546.90 395.43 L547.40 395.53 L547.90 395.63 L548.40 395.73 L548.90 395.83 L549.40 395.93 L549.90 396.03 L550.40 396.13 L550.90 396.23 L551.40 396.33 L551.90 396.43 L552.40 396.52 L552.90 396.62 L553.40 396.72 L553.90 396.81 L554.40 396.91 L554.90 397.00 L555.40 397.10 L555.90 397.19 L556.40 397.28 L556.90 397.37 L557.40 397.47 L557.90 397.56 L558.40 397.65 L558.90 397.74 L559.40 397.83 L559.90 397.92 L560.40 398.01 L560.90 398.09 L561.40 398.18 L561.90 398.27 L562.40 398.36 L562.90 398.44 L563.40 398.53 L563.90 398.61 L564.40 398.70 L564.90 398.78 L565.40 398.87 L565.90 398.95 L566.40 399.03 L566.90 399.12 L567.40 399.20 L567.90 399.28 L568.40 399.36 L568.90 399.44 L569.40 399.52 L569.90 399.60 L570.40 399.68 L570.90 399.76 L571.40 399.84 L571.90 399.92 L572.40 399.99 L572.90 400.07 L573.40 400.15 L573.90 400.22 L574.40 400.30 L574.90 400.38 L575.40 400.45 L575.90 400.53 L576.40 400.60 L576.90 400.67 L577.40 400.75 L577.90 400.82 L578.40 400.89 L578.90 400.97 L579.40 401.04 L579.90 401.11 L580.40 401.18 L580.90 401.25 L581.40 401.32 L581.90 401.39 L582.40 401.46 L582.90 401.53 L583.40 401.60 L583.90 401.67 L584.40 401.73 L584.90 401.80 L585.40 401.87 L585.90 401.94 L586.40 402.00 L586.90 402.07 L587.40 402.13 L587.90 402.20 L588.40 402.27 L588.90 402.33 L589.40 402.39 L589.90 402.46 L590.40 402.52 L590.90 402.59 L591.40 402.65 L591.90 402.71 L592.40 402.77 L592.90 402.84 L593.40 402.90 L593.90 402.96 L594.40 403.02 L594.90 403.08 L595.40 403.14 L595.90 403.20 L596.40 403.26 L596.90 403.32 L597.40 403.38 L597.90 403.44 L598.40 403.50 L598.90 403.55 L599.40 403.61 L599.90 403.67 L600.40 403.73 L600.90 403.78 L601.40 403.84 L601.90 403.89 L602.40 403.95 L602.90 404.01 L603.40 404.06 L603.90 404.12 L604.40 404.17 L604.90 404.23 L605.40 404.28 L605.90 404.33 L606.40 404.39 L606.90 404.44 L607.40 404.49 L607.90 404.55 L608.40 404.60 L608.90 404.65 L609.40 404.70 L609.90 404.75 L610.40 404.80 L610.90 404.86 L611.40 404.91 L611.90 404.96 L612.40 405.01 L612.90 405.06 L613.40 405.11 L613.90 405.16 L614.40 405.20 L614.90 405.25 L615.40 405.30 L615.90 405.35 L616.40 405.40 L616.90 405.45 L617.40 405.49 L617.90 405.54 L618.40 405.59 L618.90 405.63 L619.40 405.68 L619.90 405.73 L620.40 405.77 L620.90 405.82 L621.40 405.86 L621.90 405.91 L622.40 405.95 L622.90 406.00 L623.40 406.04 L623.90 406.09 L624.40 406.13 L624.90 406.18 L625.40 406.22 L625.90 406.26 L626.40 406.31 L626.90 406.35 L627.40 406.39 L627.90 406.43 L628.40 406.48 L628.90 406.52 L629.40 406.56 L629.90 406.60 L630.40 406.64 L630.90 406.68 L631.40 406.72 L631.90 406.76 L632.40 406.81 L632.90 406.85 L633.40 406.89 L633.90 406.93 L634.40 406.96 L634.90 407.00 L635.40 407.04 L635.75 407.07" stroke="#0000ff" stroke-width="2" fill="none" stroke-linejoin="round"/>
<path d="M74.85 414.90 L258.95 414.90 L259.95 285.70 L260.45 283.53 L260.95 281.47 L261.45 279.50 L261.95 277.60 L262.45 275.80 L262.95 274.07 L263.45 272.44 L263.95 270.90 L264.45 269.45 L264.95 268.10 L265.45 266.84 L265.95 265.67 L266.45 264.61 L266.95 263.63 L267.45 262.76 L267.95 261.98 L268.45 261.30 L268.95 260.72 L269.45 260.22 L269.95 259.83 L270.45 259.52 L270.95 259.31 L271.45 259.19 L271.95 259.15 L272.45 259.20 L272.95 259.34 L273.45 259.55 L273.95 259.85 L274.45 260.22 L274.95 260.67 L275.45 261.19 L275.95 261.79 L276.45 262.44 L276.95 263.17 L277.45 263.95 L277.95 264.80 L278.45 265.70 L278.95 266.65 L279.45 267.65 L279.95 268.68 L280.45 269.74 L280.95 270.83 L281.45 271.92 L281.95 273.02 L282.45 274.12 L282.95 275.21 L283.45 276.30 L283.95 277.39 L284.45 278.47 L284.95 279.54 L285.45 280.61 L285.95 281.67 L286.45 282.73 L286.95 283.78 L287.45 284.82 L287.95 285.86 L288.45 286.89 L288.95 287.91 L289.45 288.92 L289.95 289.92 L290.45 290.92 L290.95 291.90 L291.45 292.88 L291.95 293.84 L292.45 294.80 L292.95 295.75 L293.45 296.69 L293.95 297.62 L294.45 298.55 L294.95 299.46 L295.45 300.37 L295.95 301.26 L296.45 302.15 L296.95 303.04 L297.45 303.91 L297.95 304.78 L298.45 305.63 L298.95 306.49 L299.45 307.33 L299.95 308.17 L300.45 308.99 L300.95 309.82 L301.45 310.63 L301.95 311.44 L302.45 312.24 L302.95 313.03 L303.45 313.82 L303.95 314.60 L304.45 315.38 L304.95 316.15 L305.45 316.91 L305.95 317.66 L306.45 318.41 L306.95 319.16 L307.45 319.89 L307.95 320.63 L308.45 321.35 L308.95 322.07 L309.45 322.79 L309.95 323.49 L310.45 324.20 L310.95 324.90 L311.45 325.59 L311.95 326.28 L312.45 326.96 L312.95 327.63 L313.45 328.31 L313.95 328.97 L314.45 329.63 L314.95 330.29 L315.45 330.94 L315.95 331.59 L316.45 332.23 L316.95 332.87 L317.45 333.50 L317.95 334.13 L318.45 334.75 L318.95 335.37 L319.45 335.99 L319.95 336.60 L320.45 337.21 L320.95 337.81 L321.45 338.41 L321.95 339.00 L322.45 339.59 L322.95 340.17 L323.45 340.75 L323.95 341.33 L324.45 341.90 L324.95 342.47 L325.45 343.03 L325.95 343.59 L326.45 344.15 L326.95 344.70 L327.45 345.25 L327.95 345.79 L328.45 346.33 L328.95 346.87 L329.45 347.40 L329.95 347.92 L330.45 348.45 L330.95 348.97 L331.45 349.48 L331.95 350.00 L332.45 350.50 L332.95 351.01 L333.45 351.51 L333.95 352.00 L334.45 352.50 L334.95 352.99 L335.45 353.47 L335.95 353.95 L336.45 354.43 L336.95 354.90 L337.45 355.37 L337.95 355.84 L338.45 356.30 L338.95 356.76 L339.45 357.22 L339.95 357.67 L340.45 358.12 L340.95 358.57 L341.45 359.01 L341.95 359.45 L342.45 359.88 L342.95 360.31 L343.45 360.74 L343.95 361.17 L344.45 361.59 L344.95 362.01 L345.45 362.42 L345.95 362.83 L346.45 363.24 L346.95 363.65 L347.45 364.05 L347.95 364.45 L348.45 364.84 L348.95 365.24 L349.45 365.63 L349.95 366.01 L350.45 366.39 L350.95 366.77 L351.45 367.15 L351.95 367.53 L352.45 367.90 L352.95 368.26 L353.45 368.63 L353.95 368.99 L354.45 369.35 L354.95 369.71 L355.45 370.06 L355.95 370.41 L356.45 370.76 L356.95 371.10 L357.45 371.44 L357.95 371.78 L358.45 372.12 L358.95 372.45 L359.45 372.79 L359.95 373.11 L360.45 373.44 L360.95 373.76 L361.45 374.08 L361.95 374.40 L362.45 374.72 L362.95 375.03 L363.45 375.34 L363.95 375.65 L364.45 375.95 L364.95 376.26 L365.45 376.56 L365.95 376.86 L366.45 377.15 L366.95 377.44 L367.45 377.74 L367.95 378.02 L368.45 378.31 L368.95 378.60 L369.45 378.88 L369.95 379.16 L370.45 379.43 L370.95 379.71 L371.45 379.98 L371.95 380.25 L372.45 380.52 L372.95 380.79 L373.45 381.05 L373.95 381.31 L374.45 381.57 L374.95 381.83 L375.45 382.09 L375.95 382.34 L376.45 382.59 L376.95 382.84 L377.45 383.09 L377.95 383.34 L378.45 383.58 L378.95 383.82 L379.45 384.06 L379.95 384.30 L380.45 384.53 L380.95 384.77 L381.45 385.00 L381.95 385.23 L382.45 385.46 L382.95 385.69 L383.45 385.91 L383.95 386.13 L384.45 386.36 L384.95 386.57 L385.45 386.79 L385.95 387.01 L386.45 387.22 L386.95 387.44 L387.45 387.65 L387.95 387.86 L388.45 388.06 L388.95 388.27 L389.45 388.47 L389.95 388.68 L390.45 388.88 L390.95 389.08 L391.45 389.27 L391.95 389.47 L392.45 389.66 L392.95 389.86 L393.45 390.05 L393.95 390.24 L394.45 390.43 L394.95 390.61 L395.45 390.80 L395.95 390.98 L396.45 391.17 L396.95 391.35 L397.45 391.53 L397.95 391.70 L398.45 391.88 L398.95 392.06 L399.45 392.23 L399.95 392.40 L400.45 392.57 L400.95 392.74 L401.45 392.91 L401.95 393.08 L402.45 393.24 L402.95 393.41 L403.45 393.57 L403.95 393.73 L404.45 393.89 L404.95 394.05 L405.45 394.21 L405.95 394.37 L406.45 394.52 L406.95 394.68 L407.45 394.83 L407.95 394.98 L408.45 395.13 L408.95 395.28 L409.45 395.43 L409.95 395.58 L410.45 395.72 L410.95 395.87 L411.45 396.01 L411.95 396.15 L412.45 396.29 L412.95 396.44 L413.45 396.57 L413.95 396.71 L414.45 396.85 L414.95 396.98 L415.45 397.12 L415.95 397.25 L416.45 397.39 L416.95 397.52 L417.45 397.65 L417.95 397.78 L418.45 397.91 L418.95 398.03 L419.45 398.16 L419.95 398.28 L420.45 398.41 L420.95 398.53 L421.45 398.65 L421.95 398.78 L422.45 398.90 L422.95 399.02 L423.45 399.13 L423.95 399.25 L424.45 399.37 L424.95 399.48 L425.45 399.60 L425.95 399.71 L426.45 399.83 L426.95 399.94 L427.45 400.05 L427.95 400.16 L428.45 400.27 L428.95 400.38 L429.45 400.49 L429.95 400.59 L430.45 400.70 L430.95 400.80 L431.45 400.91 L431.95 401.01 L432.45 401.12 L432.95 401.22 L433.45 401.32 L433.95 401.42 L434.45 401.52 L434.95 401.62 L435.45 401.72 L435.95 401.81 L436.45 401.91 L436.95 402.01 L437.45 402.10 L437.95 402.19 L438.45 402.29 L438.95 402.38 L439.45 402.47 L439.95 402.56 L440.45 402.65 L440.95 402.74 L441.45 402.83 L441.95 402.92 L442.45 403.01 L442.95 403.10 L443.45 403.18 L443.95 403.27 L444.45 403.36 L444.95 403.44 L445.45 403.52 L445.95 403.61 L446.45 403.69 L446.95 403.77 L447.45 403.85 L447.95 403.93 L448.45 404.01 L448.95 404.09 L449.45 404.17 L449.95 404.25 L450.45 404.33 L450.95 404.40 L451.45 404.48 L451.95 404.55 L452.45 404.63 L452.95 404.70 L453.45 404.78 L453.95 404.85 L454.45 404.92 L454.95 405.00 L455.45 405.07 L455.95 405.14 L456.45 405.21 L456.95 405.28 L457.45 405.35 L457.95 405.42 L458.45 405.49 L458.95 405.55 L459.45 405.62 L459.95 405.69 L460.45 405.76 L460.95 405.82 L461.45 405.89 L461.95 405.95 L462.45 406.02 L462.95 406.08 L463.45 406.14 L463.95 406.21 L464.45 406.27 L464.95 406.33 L465.45 406.39 L465.95 406.45 L466.45 406.51 L466.95 406.57 L467.45 406.63 L467.95 406.69 L468.45 406.75 L468.95 406.81 L469.45 406.87 L469.95 406.92 L470.45 406.98 L470.95 407.04 L471.45 407.09 L471.95 407.15 L472.45 407.20 L472.95 407.26 L473.45 407.31 L473.95 407.36 L474.45 407.42 L474.95 407.47 L475.45 407.52 L475.95 407.58 L476.45 407.63 L476.95 407.68 L477.45 407.73 L477.95 407.78 L478.45 407.83 L478.95 407.88 L479.45 407.93 L479.95 407.98 L480.45 408.03 L480.95 408.08 L481.45 408.12 L481.95 408.17 L482.45 408.22 L482.95 408.27 L483.45 408.31 L483.95 408.36 L484.45 408.40 L484.95 408.45 L485.45 408.50 L485.95 408.54 L486.45 408.58 L486.95 408.63 L487.45 408.67 L487.95 408.72 L488.45 408.76 L488.95 408.80 L489.45 408.84 L489.95 408.89 L490.45 408.93 L490.95 408.97 L491.45 409.01 L491.95 409.05 L492.45 409.09 L492.95 409.13 L493.45 409.17 L493.95 409.21 L494.45 409.25 L494.95 409.29 L495.45 409.33 L495.95 409.37 L496.45 409.41 L496.95 409.44 L497.45 409.48 L497.95 409.52 L498.45 409.56 L498.95 409.59 L499.45 409.63 L499.95 409.67 L500.45 409.70 L500.95 409.74 L501.45 409.77 L501.95 409.81 L502.45 409.84 L502.95 409.88 L503.45 409.91 L503.95 409.95 L504.45 409.98 L504.95 410.01 L505.45 410.05 L505.95 410.08 L506.45 410.11 L506.95 410.14 L507.45 410.18 L507.95 410.21 L508.45 410.24 L508.95 410.27 L509.45 410.30 L509.95 410.34 L510.45 410.37 L510.95 410.40 L511.45 410.43 L511.95 410.46 L512.45 410.49 L512.95 410.52 L513.45 410.55 L513.95 410.58 L514.45 410.61 L514.95 410.63 L515.45 410.66 L515.95 410.69 L516.45 410.72 L516.95 410.75 L517.45 410.78 L517.95 410.80 L518.45 410.83 L518.95 410.86 L519.45 410.89 L519.95 410.91 L520.45 410.94 L520.95 410.97 L521.45 410.99 L521.95 411.02 L522.45 411.04 L522.95 411.07 L523.45 411.10 L523.95 411.12 L524.45 411.15 L524.95 411.17 L525.45 411.20 L525.95 411.22 L526.45 411.24 L526.95 411.27 L527.45 411.29 L527.95 411.32 L528.45 411.34 L528.95 411.36 L529.45 411.39 L529.95 411.41 L530.45 411.43 L530.95 411.46 L531.45 411.48 L531.95 411.50 L532.45 411.52 L532.95 411.55 L533.45 411.57 L533.95 411.59 L534.45 411.61 L534.95 411.63 L535.45 411.65 L535.95 411.68 L536.45 411.70 L536.95 411.72 L537.45 411.74 L537.95 411.76 L538.45 411.78 L538.95 411.80 L539.45 411.82 L539.95 411.84 L540.45 411.86 L540.95 411.88 L541.45 411.90 L541.95 411.92 L542.45 411.94 L542.95 411.96 L543.45 411.98 L543.95 412.00 L544.45 412.01 L544.95 412.03 L545.45 412.05 L545.95 412.07 L546.45 412.09 L546.95 412.11 L547.45 412.12 L547.95 412.14 L548.45 412.16 L548.95 412.18 L549.45 412.20 L549.95 412.21 L550.45 412.23 L550.95 412.25 L551.45 412.26 L551.95 412.28 L552.45 412.30 L552.95 412.31 L553.45 412.33 L553.95 412.35 L554.45 412.36 L554.95 412.38 L555.45 412.40 L555.95 412.41 L556.45 412.43 L556.95 412.44 L557.45 412.46 L557.95 412.47 L558.45 412.49 L558.95 412.50 L559.45 412.52 L559.95 412.53 L560.45 412.55 L560.95 412.56 L561.45 412.58 L561.95 412.59 L562.45 412.61 L562.95 412.62 L563.45 412.64 L563.95 412.65 L564.45 412.67 L564.95 412.68 L565.45 412.69 L565.95 412.71 L566.45 412.72 L566.95 412.73 L567.45 412.75 L567.95 412.76 L568.45 412.77 L568.95 412.79 L569.45 412.80 L569.95 412.81 L570.45 412.83 L570.95 412.84 L571.45 412.85 L571.95 412.87 L572.45 412.88 L572.95 412.89 L573.45 412.90 L573.95 412.92 L574.45 412.93 L574.95 412.94 L575.45 412.95 L575.95 412.96 L576.45 412.98 L576.95 412.99 L577.45 413.00 L577.95 413.01 L578.45 413.02 L578.95 413.03 L579.45 413.05 L579.95 413.06 L580.45 413.07 L580.95 413.08 L581.45 413.09 L581.95 413.10 L582.45 413.11 L582.95 413.12 L583.45 413.13 L583.95 413.15 L584.45 413.16 L584.95 413.17 L585.45 413.18 L585.95 413.19 L586.45 413.20 L586.95 413.21 L587.45 413.22 L587.95 413.23 L588.45 413.24 L588.95 413.25 L589.45 413.26 L589.95 413.27 L590.45 413.28 L590.95 413.29 L591.45 413.30 L591.95 413.31 L592.45 413.32 L592.95 413.33 L593.45 413.34 L593.95 413.34 L594.45 413.35 L594.95 413.36 L595.45 413.37 L595.95 413.38 L596.45 413.39 L596.95 413.40 L597.45 413.41 L597.95 413.42 L598.45 413.43 L598.95 413.43 L599.45 413.44 L599.95 413.45 L600.45 413.46 L600.95 413.47 L601.45 413.48 L601.95 413.49 L602.45 413.49 L602.95 413.50 L603.45 413.51 L603.95 413.52 L604.45 413.53 L604.95 413.53 L605.45 413.54 L605.95 413.55 L606.45 413.56 L606.95 413.57 L607.45 413.57 L607.95 413.58 L608.45 413.59 L608.95 413.60 L609.45 413.60 L609.95 413.61 L610.45 413.62 L610.95 413.63 L611.45 413.63 L611.95 413.64 L612.45 413.65 L612.95 413.66 L613.45 413.66 L613.95 413.67 L614.45 413.68 L614.95 413.68 L615.45 413.69 L615.95 413.70 L616.45 413.71 L616.95 413.71 L617.45 413.72 L617.95 413.73 L618.45 413.73 L618.95 413.74 L619.45 413.75 L619.95 413.75 L620.45 413.76 L620.95 413.77 L621.45 413.77 L621.95 413.78 L622.45 413.78 L622.95 413.79 L623.45 413.80 L623.95 413.80 L624.45 413.81 L624.95 413.82 L625.45 413.82 L625.95 413.83 L626.45 413.83 L626.95 413.84 L627.45 413.85 L627.95 413.85 L628.45 413.86 L628.95 413.86 L629.45 413.87 L629.95 413.87 L630.45 413.88 L630.95 413.89 L631.45 413.89 L631.95 413.90 L632.45 413.90 L632.95 413.91 L633.45 413.91 L633.95 413.92 L634.45 413.92 L634.95 413.93 L635.45 413.93 L635.75 413.94" stroke="#ff00ff" stroke-width="2" fill="none" stroke-linejoin="round"/>
<path d="M74.85 414.90 L226.90 414.90 L227.40 340.30 L227.90 338.34 L228.40 336.73 L228.90 335.39 L229.40 334.23 L229.90 333.18 L230.40 332.16 L230.90 331.16 L231.40 330.19 L231.90 329.27 L232.40 328.42 L232.90 327.63 L233.40 326.92 L233.90 326.29 L234.40 325.75 L234.90 325.29 L235.40 324.93 L235.90 324.67 L236.40 324.51 L236.90 324.44 L237.40 324.47 L237.90 324.59 L238.40 324.79 L238.90 325.08 L239.40 325.46 L239.90 325.91 L240.40 326.43 L240.90 327.01 L241.40 327.65 L241.90 328.34 L242.40 329.06 L242.90 329.81 L243.40 330.58 L243.90 331.37 L244.40 332.16 L244.90 332.96 L245.40 333.74 L245.90 334.52 L246.40 335.29 L246.90 336.05 L247.40 336.81 L247.90 337.55 L248.40 338.29 L248.90 339.03 L249.40 339.75 L249.90 340.48 L250.40 341.20 L250.90 341.91 L251.40 342.62 L251.90 343.33 L252.40 344.03 L252.90 344.74 L253.40 345.43 L253.90 346.13 L254.40 346.83 L254.90 347.52 L255.40 348.22 L255.90 348.91 L256.40 349.60 L256.90 350.29 L257.40 350.99 L257.90 351.68 L258.40 352.37 L258.90 353.06 L259.40 353.75 L259.90 354.44 L260.40 355.13 L260.90 355.82 L261.40 356.50 L261.90 357.18 L262.40 357.85 L262.90 358.52 L263.40 359.19 L263.90 359.85 L264.40 360.50 L264.90 361.15 L265.40 361.80 L265.90 362.43 L266.40 363.06 L266.90 363.68 L267.40 364.30 L267.90 364.90 L268.40 365.50 L268.90 366.09 L269.40 366.67 L269.90 367.25 L270.40 367.81 L270.90 368.37 L271.40 368.93 L271.90 369.47 L272.40 370.01 L272.90 370.54 L273.40 371.06 L273.90 371.58 L274.40 372.09 L274.90 372.59 L275.40 373.09 L275.90 373.58 L276.40 374.06 L276.90 374.54 L277.40 375.01 L277.90 375.48 L278.40 375.94 L278.90 376.39 L279.40 376.84 L279.90 377.28 L280.40 377.71 L280.90 378.14 L281.40 378.57 L281.90 378.99 L282.40 379.40 L282.90 379.81 L283.40 380.21 L283.90 380.61 L284.40 381.01 L284.90 381.39 L285.40 381.78 L285.90 382.15 L286.40 382.53 L286.90 382.90 L287.40 383.26 L287.90 383.62 L288.40 383.98 L288.90 384.33 L289.40 384.67 L289.90 385.02 L290.40 385.35 L290.90 385.69 L291.40 386.02 L291.90 386.34 L292.40 386.66 L292.90 386.98 L293.40 387.29 L293.90 387.60 L294.40 387.91 L294.90 388.21 L295.40 388.51 L295.90 388.80 L296.40 389.09 L296.90 389.38 L297.40 389.66 L297.90 389.94 L298.40 390.22 L298.90 390.49 L299.40 390.76 L299.90 391.03 L300.40 391.30 L300.90 391.56 L301.40 391.81 L301.90 392.07 L302.40 392.32 L302.90 392.57 L303.40 392.81 L303.90 393.05 L304.40 393.29 L304.90 393.53 L305.40 393.76 L305.90 393.99 L306.40 394.22 L306.90 394.45 L307.40 394.67 L307.90 394.89 L308.40 395.11 L308.90 395.32 L309.40 395.53 L309.90 395.74 L310.40 395.95 L310.90 396.16 L311.40 396.36 L311.90 396.56 L312.40 396.76 L312.90 396.95 L313.40 397.15 L313.90 397.34 L314.40 397.53 L314.90 397.71 L315.40 397.90 L315.90 398.08 L316.40 398.26 L316.90 398.44 L317.40 398.61 L317.90 398.79 L318.40 398.96 L318.90 399.13 L319.40 399.30 L319.90 399.46 L320.40 399.63 L320.90 399.79 L321.40 399.95 L321.90 400.11 L322.40 400.27 L322.90 400.42 L323.40 400.57 L323.90 400.72 L324.40 400.87 L324.90 401.02 L325.40 401.17 L325.90 401.31 L326.40 401.46 L326.90 401.60 L327.40 401.74 L327.90 401.88 L328.40 402.01 L328.90 402.15 L329.40 402.28 L329.90 402.42 L330.40 402.55 L330.90 402.68 L331.40 402.80 L331.90 402.93 L332.40 403.06 L332.90 403.18 L333.40 403.30 L333.90 403.42 L334.40 403.54 L334.90 403.66 L335.40 403.78 L335.90 403.89 L336.40 404.01 L336.90 404.12 L337.40 404.23 L337.90 404.34 L338.40 404.45 L338.90 404.56 L339.40 404.67 L339.90 404.78 L340.40 404.88 L340.90 404.98 L341.40 405.09 L341.90 405.19 L342.40 405.29 L342.90 405.39 L343.40 405.49 L343.90 405.58 L344.40 405.68 L344.90 405.77 L345.40 405.87 L345.90 405.96 L346.40 406.05 L346.90 406.15 L347.40 406.24 L347.90 406.32 L348.40 406.41 L348.90 406.50 L349.40 406.59 L349.90 406.67 L350.40 406.76 L350.90 406.84 L351.40 406.92 L351.90 407.01 L352.40 407.09 L352.90 407.17 L353.40 407.25 L353.90 407.32 L354.40 407.40 L354.90 407.48 L355.40 407.56 L355.90 407.63 L356.40 407.70 L356.90 407.78 L357.40 407.85 L357.90 407.92 L358.40 408.00 L358.90 408.07 L359.40 408.14 L359.90 408.21 L360.40 408.27 L360.90 408.34 L361.40 408.41 L361.90 408.48 L362.40 408.54 L362.90 408.61 L363.40 408.67 L363.90 408.73 L364.40 408.80 L364.90 408.86 L365.40 408.92 L365.90 408.98 L366.40 409.04 L366.90 409.10 L367.40 409.16 L367.90 409.22 L368.40 409.28 L368.90 409.34 L369.40 409.39 L369.90 409.45 L370.40 409.51 L370.90 409.56 L371.40 409.62 L371.90 409.67 L372.40 409.72 L372.90 409.78 L373.40 409.83 L373.90 409.88 L374.40 409.93 L374.90 409.98 L375.40 410.03 L375.90 410.08 L376.40 410.13 L376.90 410.18 L377.40 410.23 L377.90 410.28 L378.40 410.33 L378.90 410.37 L379.40 410.42 L379.90 410.47 L380.40 410.51 L380.90 410.56 L381.40 410.60 L381.90 410.65 L382.40 410.69 L382.90 410.73 L383.40 410.78 L383.90 410.82 L384.40 410.86 L384.90 410.90 L385.40 410.95 L385.90 410.99 L386.40 411.03 L386.90 411.07 L387.40 411.11 L387.90 411.15 L388.40 411.18 L388.90 411.22 L389.40 411.26 L389.90 411.30 L390.40 411.34 L390.90 411.37 L391.40 411.41 L391.90 411.45 L392.40 411.48 L392.90 411.52 L393.40 411.55 L393.90 411.59 L394.40 411.62 L394.90 411.66 L395.40 411.69 L395.90 411.73 L396.40 411.76 L396.90 411.79 L397.40 411.83 L397.90 411.86 L398.40 411.89 L398.90 411.92 L399.40 411.95 L399.90 411.98 L400.40 412.01 L400.90 412.05 L401.40 412.08 L401.90 412.11 L402.40 412.14 L402.90 412.16 L403.40 412.19 L403.90 412.22 L404.40 412.25 L404.90 412.28 L405.40 412.31 L405.90 412.34 L406.40 412.36 L406.90 412.39 L407.40 412.42 L407.90 412.44 L408.40 412.47 L408.90 412.50 L409.40 412.52 L409.90 412.55 L410.40 412.57 L410.90 412.60 L411.40 412.62 L411.90 412.65 L412.40 412.67 L412.90 412.70 L413.40 412.72 L413.90 412.75 L414.40 412.77 L414.90 412.79 L415.40 412.82 L415.90 412.84 L416.40 412.86 L416.90 412.88 L417.40 412.91 L417.90 412.93 L418.40 412.95 L418.90 412.97 L419.40 412.99 L419.90 413.02 L420.40 413.04 L420.90 413.06 L421.40 413.08 L421.90 413.10 L422.40 413.12 L422.90 413.14 L423.40 413.16 L423.90 413.18 L424.40 413.20 L424.90 413.22 L425.40 413.24 L425.90 413.26 L426.40 413.27 L426.90 413.29 L427.40 413.31 L427.90 413.33 L428.40 413.35 L428.90 413.37 L429.40 413.38 L429.90 413.40 L430.40 413.42 L430.90 413.44 L431.40 413.45 L431.90 413.47 L432.40 413.49 L432.90 413.50 L433.40 413.52 L433.90 413.54 L434.40 413.55 L434.90 413.57 L435.40 413.59 L435.90 413.60 L436.40 413.62 L436.90 413.63 L437.40 413.65 L437.90 413.66 L438.40 413.68 L438.90 413.69 L439.40 413.71 L439.90 413.72 L440.40 413.74 L440.90 413.75 L441.40 413.77 L441.90 413.78 L442.40 413.79 L442.90 413.81 L443.40 413.82 L443.90 413.84 L444.40 413.85 L444.90 413.86 L445.40 413.88 L445.90 413.89 L446.40 413.90 L446.90 413.91 L447.40 413.93 L447.90 413.94 L448.40 413.95 L448.90 413.96 L449.40 413.98 L449.90 413.99 L450.40 414.00 L450.90 414.01 L451.40 414.02 L451.90 414.04 L452.40 414.05 L452.90 414.06 L453.40 414.07 L453.90 414.08 L454.40 414.09 L454.90 414.10 L455.40 414.12 L455.90 414.13 L456.40 414.14 L456.90 414.15 L457.40 414.16 L457.90 414.17 L458.40 414.18 L458.90 414.19 L459.40 414.20 L459.90 414.21 L460.40 414.22 L460.90 414.23 L461.40 414.24 L461.90 414.25 L462.40 414.26 L462.90 414.27 L463.40 414.28 L463.90 414.29 L464.40 414.30 L464.90 414.31 L465.40 414.31 L465.90 414.32 L466.40 414.33 L466.90 414.34 L467.40 414.35 L467.90 414.36 L468.40 414.37 L468.90 414.38 L469.40 414.38 L469.90 414.39 L470.40 414.40 L470.90 414.41 L471.40 414.42 L471.90 414.43 L472.40 414.43 L472.90 414.44 L473.40 414.45 L473.90 414.46 L474.40 414.47 L474.90 414.47 L475.40 414.48 L475.90 414.49 L476.40 414.50 L476.90 414.50 L477.40 414.51 L477.90 414.52 L478.40 414.52 L478.90 414.53 L479.40 414.54 L479.90 414.55 L480.00 414.55 L505.00 414.90 L635.95 414.90" stroke="#00ffff" stroke-width="2" fill="none" stroke-linejoin="round"/>
<path d="M74.85 414.90 L201.70 414.90 L202.70 375.20 L203.20 373.65 L203.70 372.31 L204.20 371.11 L204.70 370.07 L205.20 369.17 L205.70 368.41 L206.20 367.76 L206.70 367.21 L207.20 366.75 L207.70 366.34 L208.20 365.99 L208.70 365.70 L209.20 365.46 L209.70 365.28 L210.20 365.17 L210.70 365.13 L211.20 365.16 L211.70 365.28 L212.20 365.47 L212.70 365.74 L213.20 366.10 L213.70 366.53 L214.20 367.03 L214.70 367.59 L215.20 368.20 L215.70 368.86 L216.20 369.54 L216.70 370.25 L217.20 370.95 L217.70 371.63 L218.20 372.29 L218.70 372.92 L219.20 373.54 L219.70 374.13 L220.20 374.71 L220.70 375.27 L221.20 375.82 L221.70 376.35 L222.20 376.87 L222.70 377.38 L223.20 377.88 L223.70 378.37 L224.20 378.85 L224.70 379.33 L225.20 379.80 L225.70 380.26 L226.20 380.72 L226.70 381.17 L227.20 381.63 L227.70 382.07 L228.20 382.52 L228.70 382.96 L229.20 383.40 L229.70 383.84 L230.20 384.27 L230.70 384.70 L231.20 385.12 L231.70 385.55 L232.20 385.96 L232.70 386.38 L233.20 386.79 L233.70 387.20 L234.20 387.60 L234.70 388.00 L235.20 388.40 L235.70 388.79 L236.20 389.18 L236.70 389.56 L237.20 389.94 L237.70 390.32 L238.20 390.69 L238.70 391.05 L239.20 391.42 L239.70 391.78 L240.20 392.13 L240.70 392.48 L241.20 392.83 L241.70 393.17 L242.20 393.51 L242.70 393.85 L243.20 394.18 L243.70 394.50 L244.20 394.82 L244.70 395.14 L245.20 395.45 L245.70 395.76 L246.20 396.07 L246.70 396.37 L247.20 396.67 L247.70 396.96 L248.20 397.25 L248.70 397.53 L249.20 397.81 L249.70 398.09 L250.20 398.36 L250.70 398.63 L251.20 398.90 L251.70 399.16 L252.20 399.42 L252.70 399.67 L253.20 399.92 L253.70 400.16 L254.20 400.41 L254.70 400.64 L255.20 400.88 L255.70 401.11 L256.20 401.34 L256.70 401.56 L257.20 401.78 L257.70 402.00 L258.20 402.21 L258.70 402.42 L259.20 402.63 L259.70 402.83 L260.20 403.03 L260.70 403.22 L261.20 403.42 L261.70 403.61 L262.20 403.79 L262.70 403.98 L263.20 404.16 L263.70 404.34 L264.20 404.51 L264.70 404.68 L265.20 404.85 L265.70 405.01 L266.20 405.18 L266.70 405.34 L267.20 405.49 L267.70 405.65 L268.20 405.80 L268.70 405.95 L269.20 406.10 L269.70 406.24 L270.20 406.38 L270.70 406.52 L271.20 406.65 L271.70 406.79 L272.20 406.92 L272.70 407.05 L273.20 407.17 L273.70 407.30 L274.20 407.42 L274.70 407.54 L275.20 407.66 L275.70 407.77 L276.20 407.89 L276.70 408.00 L277.20 408.11 L277.70 408.21 L278.20 408.32 L278.70 408.42 L279.20 408.53 L279.70 408.63 L280.20 408.72 L280.70 408.82 L281.20 408.92 L281.70 409.01 L282.20 409.10 L282.70 409.19 L283.20 409.28 L283.70 409.36 L284.20 409.45 L284.70 409.53 L285.20 409.62 L285.70 409.70 L286.20 409.78 L286.70 409.85 L287.20 409.93 L287.70 410.01 L288.20 410.08 L288.70 410.15 L289.20 410.22 L289.70 410.29 L290.20 410.36 L290.70 410.43 L291.20 410.50 L291.70 410.56 L292.20 410.63 L292.70 410.69 L293.20 410.75 L293.70 410.81 L294.20 410.87 L294.70 410.93 L295.20 410.99 L295.70 411.05 L296.20 411.10 L296.70 411.16 L297.20 411.21 L297.70 411.27 L298.20 411.32 L298.70 411.37 L299.20 411.42 L299.70 411.47 L300.20 411.52 L300.70 411.57 L301.20 411.62 L301.70 411.66 L302.20 411.71 L302.70 411.75 L303.20 411.80 L303.70 411.84 L304.20 411.88 L304.70 411.92 L305.20 411.97 L305.70 412.01 L306.20 412.05 L306.70 412.09 L307.20 412.12 L307.70 412.16 L308.20 412.20 L308.70 412.24 L309.20 412.27 L309.70 412.31 L310.20 412.34 L310.70 412.38 L311.20 412.41 L311.70 412.44 L312.20 412.48 L312.70 412.51 L313.20 412.54 L313.70 412.57 L314.20 412.60 L314.70 412.63 L315.20 412.66 L315.70 412.69 L316.20 412.72 L316.70 412.75 L317.20 412.78 L317.70 412.80 L318.20 412.83 L318.70 412.86 L319.20 412.88 L319.70 412.91 L320.20 412.93 L320.70 412.96 L321.20 412.98 L321.70 413.01 L322.20 413.03 L322.70 413.05 L323.20 413.08 L323.70 413.10 L324.20 413.12 L324.70 413.14 L325.20 413.16 L325.70 413.18 L326.20 413.21 L326.70 413.23 L327.20 413.25 L327.70 413.27 L328.20 413.28 L328.70 413.30 L329.20 413.32 L329.70 413.34 L330.20 413.36 L330.70 413.38 L331.20 413.39 L331.70 413.41 L332.20 413.43 L332.70 413.45 L333.20 413.46 L333.70 413.48 L334.20 413.49 L334.70 413.51 L335.20 413.53 L335.70 413.54 L336.20 413.56 L336.70 413.57 L337.20 413.59 L337.70 413.60 L338.20 413.61 L338.70 413.63 L339.20 413.64 L339.70 413.65 L340.20 413.67 L340.70 413.68 L341.20 413.69 L341.70 413.71 L342.20 413.72 L342.70 413.73 L343.20 413.74 L343.70 413.75 L344.20 413.77 L344.70 413.78 L345.20 413.79 L345.70 413.80 L346.20 413.81 L346.70 413.82 L347.20 413.83 L347.70 413.84 L348.20 413.85 L348.70 413.86 L349.20 413.87 L349.70 413.88 L350.20 413.89 L350.70 413.90 L351.20 413.91 L351.70 413.92 L352.20 413.93 L352.70 413.94 L353.20 413.94 L353.70 413.95 L354.20 413.96 L354.70 413.97 L355.20 413.98 L355.70 413.98 L356.20 413.99 L356.70 414.00 L357.20 414.01 L357.70 414.01 L358.20 414.02 L358.70 414.03 L359.20 414.04 L359.70 414.04 L360.20 414.05 L360.70 414.06 L361.20 414.06 L361.70 414.07 L362.20 414.07 L362.70 414.08 L363.20 414.09 L363.70 414.09 L364.20 414.10 L364.70 414.10 L365.20 414.11 L365.70 414.11 L366.20 414.12 L366.70 414.12 L367.20 414.13 L367.70 414.13 L368.20 414.14 L368.70 414.14 L369.20 414.15 L369.70 414.15 L370.20 414.16 L370.70 414.16 L371.20 414.17 L371.70 414.17 L372.20 414.17 L372.70 414.18 L373.20 414.18 L373.70 414.19 L374.20 414.19 L374.70 414.19 L375.20 414.20 L375.70 414.20 L376.20 414.20 L376.70 414.21 L377.20 414.21 L377.70 414.21 L378.20 414.22 L378.70 414.22 L379.20 414.22 L379.70 414.22 L380.20 414.23 L380.70 414.23 L381.20 414.23 L381.70 414.23 L382.20 414.24 L382.70 414.24 L383.20 414.24 L383.70 414.24 L384.20 414.24 L384.70 414.25 L385.20 414.25 L385.70 414.25 L386.20 414.25 L386.70 414.25 L387.20 414.25 L387.70 414.26 L388.20 414.26 L388.70 414.26 L389.20 414.26 L389.70 414.26 L390.20 414.26 L390.70 414.26 L391.20 414.26 L391.70 414.26 L392.20 414.26 L392.70 414.26 L393.20 414.27 L393.70 414.27 L394.20 414.27 L394.70 414.27 L395.20 414.27 L395.70 414.27 L396.20 414.27 L396.70 414.27 L397.20 414.27 L397.70 414.27 L398.20 414.27 L398.70 414.26 L399.20 414.26 L399.70 414.26 L400.00 414.26 L425.00 414.90 L635.95 414.90" stroke="#ffff00" stroke-width="2" fill="none" stroke-linejoin="round"/>
<path d="M74.85 414.90 L184.50 414.90 L185.70 393.75 L186.20 392.46 L186.70 391.48 L187.20 390.78 L187.70 390.28 L188.20 389.93 L188.70 389.61 L189.20 389.30 L189.70 388.99 L190.20 388.72 L190.70 388.53 L191.20 388.43 L191.70 388.43 L192.20 388.54 L192.70 388.73 L193.20 389.00 L193.70 389.33 L194.20 389.72 L194.70 390.15 L195.20 390.61 L195.70 391.08 L196.20 391.57 L196.70 392.06 L197.20 392.54 L197.70 393.01 L198.20 393.47 L198.70 393.92 L199.20 394.36 L199.70 394.79 L200.20 395.21 L200.70 395.62 L201.20 396.02 L201.70 396.42 L202.20 396.80 L202.70 397.18 L203.20 397.55 L203.70 397.91 L204.20 398.26 L204.70 398.61 L205.20 398.94 L205.70 399.27 L206.20 399.60 L206.70 399.91 L207.20 400.22 L207.70 400.53 L208.20 400.82 L208.70 401.11 L209.20 401.40 L209.70 401.68 L210.20 401.95 L210.70 402.21 L211.20 402.47 L211.70 402.73 L212.20 402.98 L212.70 403.23 L213.20 403.47 L213.70 403.70 L214.20 403.93 L214.70 404.16 L215.20 404.38 L215.70 404.59 L216.20 404.80 L216.70 405.01 L217.20 405.22 L217.70 405.41 L218.20 405.61 L218.70 405.80 L219.20 405.99 L219.70 406.17 L220.20 406.35 L220.70 406.53 L221.20 406.70 L221.70 406.87 L222.20 407.03 L222.70 407.20 L223.20 407.36 L223.70 407.51 L224.20 407.66 L224.70 407.81 L225.20 407.96 L225.70 408.10 L226.20 408.25 L226.70 408.38 L227.20 408.52 L227.70 408.65 L228.20 408.78 L228.70 408.91 L229.20 409.04 L229.70 409.16 L230.20 409.28 L230.70 409.40 L231.20 409.51 L231.70 409.62 L232.20 409.74 L232.70 409.85 L233.20 409.95 L233.70 410.06 L234.20 410.16 L234.70 410.26 L235.20 410.36 L235.70 410.46 L236.20 410.55 L236.70 410.64 L237.20 410.74 L237.70 410.82 L238.20 410.91 L238.70 411.00 L239.20 411.08 L239.70 411.17 L240.20 411.25 L240.70 411.33 L241.20 411.41 L241.70 411.48 L242.20 411.56 L242.70 411.63 L243.20 411.70 L243.70 411.77 L244.20 411.84 L244.70 411.91 L245.20 411.98 L245.70 412.04 L246.20 412.11 L246.70 412.17 L247.20 412.23 L247.70 412.30 L248.20 412.35 L248.70 412.41 L249.20 412.47 L249.70 412.53 L250.20 412.58 L250.70 412.64 L251.20 412.69 L251.70 412.74 L252.20 412.79 L252.70 412.84 L253.20 412.89 L253.70 412.94 L254.20 412.99 L254.70 413.03 L255.20 413.08 L255.70 413.12 L256.20 413.17 L256.70 413.21 L257.20 413.25 L257.70 413.29 L258.20 413.33 L258.70 413.37 L259.20 413.41 L259.70 413.45 L260.20 413.49 L260.70 413.52 L261.20 413.56 L261.70 413.60 L262.20 413.63 L262.70 413.66 L263.20 413.70 L263.70 413.73 L264.00 413.75 L289.00 414.90 L635.95 414.90" stroke="#000000" stroke-width="2" fill="none" stroke-linejoin="round"/>
<path d="M74.175 414.95H636.625" stroke="#000" stroke-width="1.5" fill="none"/>
<path d="M74.85 414.9V19.4M635.95 19.4V414.9" stroke="#000" stroke-width="1.35" fill="none"/>
<path d="M74.85 20.0H635.95" stroke="#000" stroke-width="1.18" fill="none"/>
</svg>
</body>
</html>
